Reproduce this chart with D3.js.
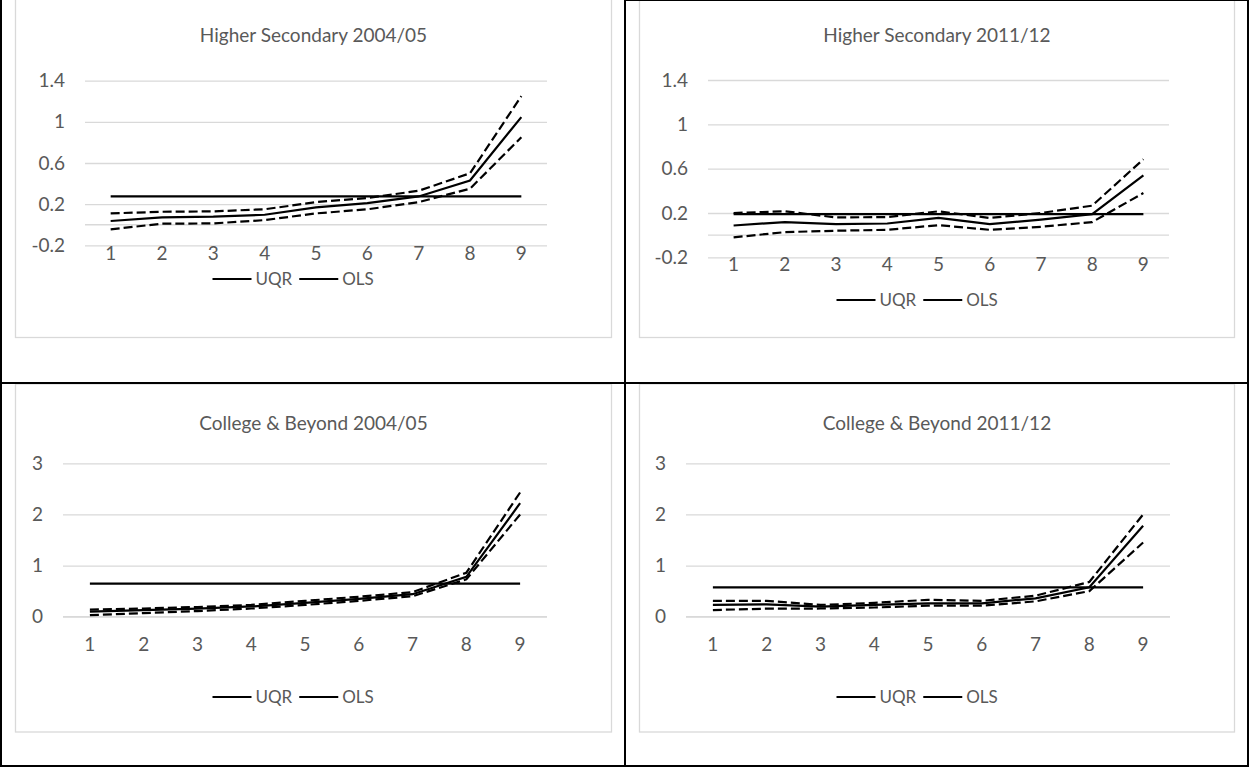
<!DOCTYPE html>
<html><head><meta charset="utf-8">
<script src="https://cdn.jsdelivr.net/npm/d3@7"></script>
<style>
body{margin:0;background:#fff;}
svg{display:block;}
text{font-family:Lato,"Open Sans",sans-serif;fill:#595959;}
</style>
</head><body>
<svg id="c" width="1249" height="767"></svg>
<script>
// ---------- data ----------
const categories = [1, 2, 3, 4, 5, 6, 7, 8, 9];
const titles = ["Higher Secondary 2004/05", "Higher Secondary 2011/12", "College & Beyond 2004/05", "College & Beyond 2011/12"];
const legendLabels = ["UQR", "OLS"];

const yTicksHS = [-0.2, 0.2, 0.6, 1, 1.4];
const yTicksCB = [0, 1, 2, 3];

const hs0405Uqr   = [0.036, 0.071, 0.078, 0.097, 0.168, 0.21, 0.275, 0.43, 1.046];
const hs0405Upper = [0.11, 0.126, 0.13, 0.15, 0.22, 0.26, 0.33, 0.50, 1.25];
const hs0405Lower = [-0.045, 0.01, 0.013, 0.045, 0.11, 0.15, 0.22, 0.35, 0.85];
const hs0405Ols   = [0.275, 0.275, 0.275, 0.275, 0.275, 0.275, 0.275, 0.275, 0.275];

const hs1112Uqr   = [0.087, 0.118, 0.10, 0.105, 0.155, 0.10, 0.14, 0.19, 0.54];
const hs1112Upper = [0.20, 0.215, 0.16, 0.163, 0.215, 0.155, 0.20, 0.266, 0.685];
const hs1112Lower = [-0.02, 0.027, 0.04, 0.048, 0.09, 0.048, 0.075, 0.118, 0.38];
const hs1112Ols   = [0.19, 0.19, 0.19, 0.19, 0.19, 0.19, 0.19, 0.19, 0.19];

const cb0405Uqr   = [0.10, 0.13, 0.157, 0.20, 0.27, 0.35, 0.44, 0.78, 2.22];
const cb0405Upper = [0.14, 0.16, 0.19, 0.23, 0.31, 0.39, 0.48, 0.86, 2.43];
const cb0405Lower = [0.03, 0.07, 0.11, 0.16, 0.23, 0.31, 0.40, 0.73, 2.0];
const cb0405Ols   = [0.646, 0.646, 0.646, 0.646, 0.646, 0.646, 0.646, 0.646, 0.646];

const cb1112Uqr   = [0.23, 0.24, 0.196, 0.23, 0.26, 0.26, 0.36, 0.575, 1.78];
const cb1112Upper = [0.31, 0.31, 0.23, 0.27, 0.33, 0.31, 0.41, 0.68, 2.0];
const cb1112Lower = [0.13, 0.157, 0.16, 0.18, 0.215, 0.215, 0.30, 0.50, 1.45];
const cb1112Ols   = [0.575, 0.575, 0.575, 0.575, 0.575, 0.575, 0.575, 0.575, 0.575];

// ---------- layout ----------
const panels = [
  {title: titles[0], uqr: hs0405Uqr, upper: hs0405Upper, lower: hs0405Lower, ols: hs0405Ols,
   ticks: yTicksHS, domain: [-0.2, 1.4],
   chart: {x: 15.5, y: -12, w: 596, h: 349.5}, plot: {x0: 85, x1: 547, yTop: 80.7, yBot: 245.3},
   xPad: 1, titleY: 42, legendY: 279},
  {title: titles[1], uqr: hs1112Uqr, upper: hs1112Upper, lower: hs1112Lower, ols: hs1112Ols,
   ticks: yTicksHS, domain: [-0.2, 1.4],
   chart: {x: 639.5, y: -12, w: 595, h: 349.5}, plot: {x0: 708, x1: 1169, yTop: 80, yBot: 257.3},
   xPad: 0, titleY: 42, legendY: 300},
  {title: titles[2], uqr: cb0405Uqr, upper: cb0405Upper, lower: cb0405Lower, ols: cb0405Ols,
   ticks: yTicksCB, domain: [0, 3],
   chart: {x: 15.5, y: 384, w: 596, h: 348}, plot: {x0: 63, x1: 547, yTop: 463.3, yBot: 616.7},
   xPad: 21, titleY: 430, legendY: 697},
  {title: titles[3], uqr: cb1112Uqr, upper: cb1112Upper, lower: cb1112Lower, ols: cb1112Ols,
   ticks: yTicksCB, domain: [0, 3],
   chart: {x: 639.5, y: 384, w: 595, h: 348}, plot: {x0: 686, x1: 1170, yTop: 463.3, yBot: 616.7},
   xPad: 21, titleY: 430, legendY: 697}
];

const svg = d3.select("#c");
const FS = 19;
const LFS = 17;

panels.forEach(p => {
  const g = svg.append("g");
  // chart area border
  g.append("rect").attr("x", p.chart.x).attr("y", p.chart.y).attr("width", p.chart.w).attr("height", p.chart.h)
    .attr("fill", "#fff").attr("stroke", "#d9d9d9").attr("stroke-width", 1.3);

  const x = d3.scaleBand().domain(categories).range([p.plot.x0, p.plot.x1]);
  const y = d3.scaleLinear().domain(p.domain).range([p.plot.yBot, p.plot.yTop]);
  const cx = c => x(c) + x.bandwidth() / 2;

  // gridlines + y labels
  const ya = g.append("g").attr("transform", `translate(${p.plot.x0},0)`)
    .call(d3.axisLeft(y).tickValues(p.ticks).tickSize(-(p.plot.x1 - p.plot.x0)).tickPadding(20).tickFormat(d => String(d)));
  ya.select(".domain").remove();
  ya.selectAll("line").attr("stroke", "#d9d9d9").attr("stroke-width", 1.3);
  ya.selectAll("text").attr("font-size", FS).attr("fill", "#595959").attr("font-family", "Lato");

  // horizontal axis line at 0
  g.append("line").attr("x1", p.plot.x0).attr("x2", p.plot.x1).attr("y1", y(0)).attr("y2", y(0))
    .attr("stroke", "#d9d9d9").attr("stroke-width", 1.3);

  // x labels (low position)
  const xa = g.append("g").attr("transform", `translate(0,${p.plot.yBot})`)
    .call(d3.axisBottom(x).tickSize(0).tickPadding(p.xPad));
  xa.select(".domain").remove();
  xa.selectAll("text").attr("font-size", FS).attr("fill", "#595959").attr("font-family", "Lato");

  // title
  g.append("text").attr("x", p.chart.x + p.chart.w / 2).attr("y", p.titleY).attr("text-anchor", "middle")
    .attr("font-size", FS).text(p.title);

  const line = d3.line().x((d, i) => cx(categories[i])).y(d => y(d));
  g.append("path").datum(p.ols).attr("d", line).attr("fill", "none").attr("stroke", "#000").attr("stroke-width", 2.2);
  g.append("path").datum(p.upper).attr("d", line).attr("fill", "none").attr("stroke", "#000").attr("stroke-width", 2.2).attr("stroke-dasharray", "9,4");
  g.append("path").datum(p.lower).attr("d", line).attr("fill", "none").attr("stroke", "#000").attr("stroke-width", 2.2).attr("stroke-dasharray", "9,4");
  g.append("path").datum(p.uqr).attr("d", line).attr("fill", "none").attr("stroke", "#000").attr("stroke-width", 2.2);

  // legend
  const lg = g.append("g");
  let cur = 0;
  legendLabels.forEach((lab, i) => {
    const it = lg.append("g").attr("transform", `translate(${cur},0)`);
    it.append("line").attr("x1", 0).attr("x2", 39).attr("y1", 0).attr("y2", 0).attr("stroke", "#000").attr("stroke-width", 2.2);
    const t = it.append("text").attr("x", 43).attr("dy", "0.35em").attr("font-size", LFS).text(lab);
    const w = t.node().getComputedTextLength();
    cur += 43 + w + 7;
  });
  lg.attr("transform", `translate(${p.chart.x + 197},${p.legendY})`);
});

// table borders
const tb = svg.append("g").attr("stroke", "#000").attr("stroke-width", 2);
tb.append("line").attr("x1", 1).attr("x2", 1).attr("y1", 0).attr("y2", 767);
tb.append("line").attr("x1", 1248).attr("x2", 1248).attr("y1", 0).attr("y2", 767);
tb.append("line").attr("x1", 625).attr("x2", 625).attr("y1", 0).attr("y2", 767);
tb.append("line").attr("x1", 0).attr("x2", 1249).attr("y1", 383).attr("y2", 383);
tb.append("line").attr("x1", 0).attr("x2", 1249).attr("y1", 766).attr("y2", 766);
tb.append("line").attr("x1", 625).attr("x2", 1249).attr("y1", 0).attr("y2", 0);
</script>
</body></html>
